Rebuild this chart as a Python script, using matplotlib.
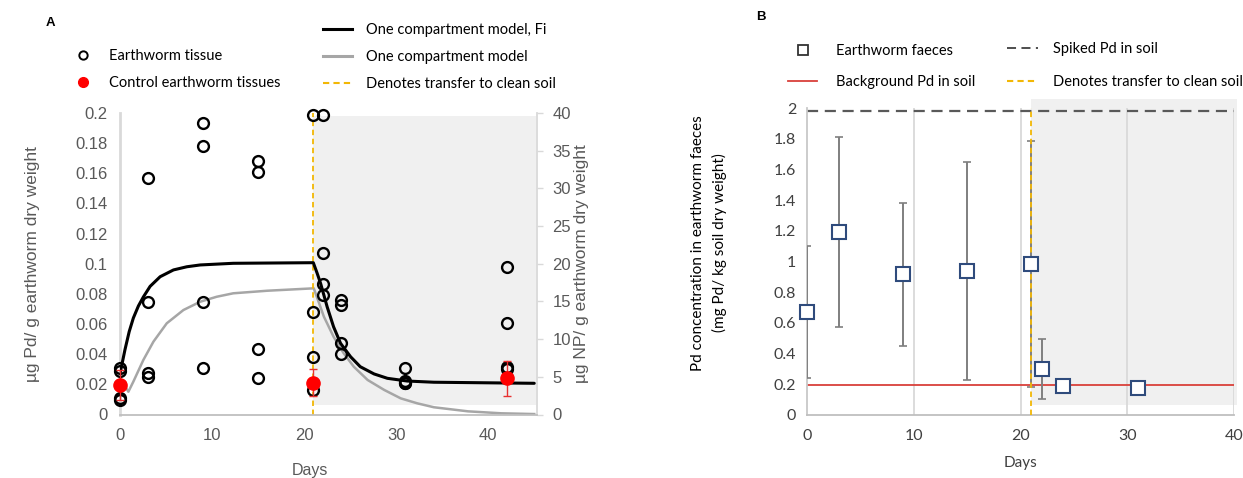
import matplotlib
matplotlib.use('Agg')
import matplotlib.pyplot as plt
from matplotlib.patches import Rectangle
from matplotlib.lines import Line2D

# ---------------- Panel A data ----------------
tissue_days = [0, 0, 0, 0, 3, 3, 3, 3, 9, 9, 9, 9, 15, 15, 15, 15,
               21, 21, 21, 21, 22, 22, 22, 22, 24, 24, 24, 24,
               31, 31, 31, 31, 42, 42, 42, 42]
tissue_pd = [0.031, 0.029, 0.011, 0.0095, 0.157, 0.0748, 0.0277, 0.0247,
             0.1936, 0.178, 0.0744, 0.0306, 0.168, 0.161, 0.0437, 0.0244,
             0.199, 0.0682, 0.0384, 0.0163, 0.199, 0.1074, 0.0866, 0.0793,
             0.076, 0.0726, 0.0472, 0.0399, 0.0306, 0.0222, 0.0212, 0.0207,
             0.098, 0.0605, 0.0313, 0.030]

control_days = [0, 21, 42]
control_pd = [0.0196, 0.0211, 0.024]
control_err = [0.010, 0.009, 0.0115]

model_fi_days = [0, 0.54, 1.0, 1.45, 2.0, 2.54, 3.27, 4.36, 5.81, 7.26, 8.71,
                 12.3, 21.0, 21.4, 21.79, 22.5, 23.2, 23.96, 25.05, 26.1,
                 27.6, 29.05, 31.2, 34.1, 45.0]
model_fi_pd = [0.027, 0.043, 0.055, 0.064, 0.072, 0.078, 0.085, 0.0914,
               0.0959, 0.098, 0.0992, 0.1003, 0.1007, 0.094, 0.087, 0.0715,
               0.0582, 0.0472, 0.0383, 0.0317, 0.0269, 0.024, 0.0222,
               0.0214, 0.0207]

model_days = [0.36, 0.91, 1.45, 2.54, 3.63, 5.08, 6.89, 8.71, 10.5, 12.3,
              16.0, 21.05, 22.15, 23.2, 24.3, 25.4, 26.9, 28.7, 30.5, 32.3,
              34.1, 37.8, 41.4, 45.0]
model_np = [4.14, 3.02, 4.36, 7.24, 9.66, 12.1, 13.86, 14.96, 15.62, 16.08,
            16.42, 16.74, 12.98, 10.32, 8.12, 6.34, 4.58, 3.26, 2.14, 1.48,
            0.96, 0.42, 0.16, 0.06]

transfer_day = 21

# ---------------- Panel B data ----------------
faeces_days = [0, 3, 9, 15, 21, 22, 24, 31]
faeces_pd = [0.672, 1.194, 0.918, 0.941, 0.985, 0.30, 0.191, 0.178]
faeces_err = [0.43, 0.62, 0.467, 0.71, 0.80, 0.195, 0.018, 0.02]
spiked_pd = 1.98
background_pd = 0.196

a_yticks = [0, 0.02, 0.04, 0.06, 0.08, 0.1, 0.12, 0.14, 0.16, 0.18, 0.2]
a_yticklabels = ['0', '0.02', '0.04', '0.06', '0.08', '0.1', '0.12', '0.14',
                 '0.16', '0.18', '0.2']
a_y2ticks = [0, 5, 10, 15, 20, 25, 30, 35, 40]
b_yticks = [0, 0.2, 0.4, 0.6, 0.8, 1.0, 1.2, 1.4, 1.6, 1.8, 2.0]
b_yticklabels = ['0', '0.2', '0.4', '0.6', '0.8', '1', '1.2', '1.4', '1.6',
                 '1.8', '2']
x_ticks = [0, 10, 20, 30, 40]

W, H = 1243, 478
ARIAL = 'Liberation Sans'
CAL = 'Lato'
TXT = '#595959'
SHADE = '#f0f0f0'
GOLD = '#f2b705'


def fx(px):
    return px / W


def fy(py):
    return 1 - py / H


fig = plt.figure(figsize=(W / 100, H / 100), dpi=100)

# ================= Panel A =================
axA = fig.add_axes([fx(120), fy(414.5), fx(537) - fx(120), fy(113) - fy(414.5)])
axA.set_xlim(0, 45.3)
axA.set_ylim(0, 0.2)

# secondary axis (NP), drawn underneath the primary one
axA2 = axA.twinx()
axA2.set_ylim(0, 40)
axA2.add_patch(Rectangle((transfer_day, 1.26), 45.2 - transfer_day, 39.6 - 1.26,
                         facecolor=SHADE, edgecolor='none', zorder=0))
axA2.plot(model_days, model_np, color='#a6a6a6', lw=1.8, zorder=3)
axA2.set_yticks(a_y2ticks)
for sp in ['top', 'left', 'bottom']:
    axA2.spines[sp].set_visible(False)
axA2.spines['right'].set_color('#d9d9d9')
axA2.spines['right'].set_linewidth(1.3)
axA2.tick_params(axis='y', length=4, width=1.0, color='#d9d9d9', pad=7,
                 labelsize=12, labelcolor=TXT)
for lab in axA2.get_yticklabels():
    lab.set_fontfamily(ARIAL)
axA2.set_ylabel('µg NP/ g earthworm dry weight', fontsize=12.5, color=TXT,
                fontfamily=ARIAL)
axA2.yaxis.label.set_verticalalignment('center')
axA2.yaxis.set_label_coords((582 - 120) / 417, 0.5)
axA.set_zorder(axA2.get_zorder() + 1)
axA.patch.set_visible(False)

axA.axvline(transfer_day, color=GOLD, lw=1.3, dashes=(3, 2), zorder=2)
axA.plot(model_fi_days, model_fi_pd, color='black', lw=2.2, zorder=4,
         solid_capstyle='round')
axA.plot(tissue_days, tissue_pd, linestyle='none', marker='o', ms=7.8,
         mfc='none', mec='black', mew=1.7, zorder=5, clip_on=False)
axA.errorbar(control_days, control_pd, yerr=control_err, fmt='o', color='#ff0000',
             ms=9.5, ecolor='#e83030', elinewidth=1.0, capsize=3, capthick=1.0,
             zorder=6, clip_on=False)

axA.set_xticks(x_ticks)
axA.set_yticks(a_yticks)
axA.set_yticklabels(a_yticklabels)
for sp in ['top', 'right']:
    axA.spines[sp].set_visible(False)
axA.spines['left'].set_color('#d9d9d9')
axA.spines['left'].set_linewidth(2.0)
axA.spines['bottom'].set_color('#bfbfbf')
axA.spines['bottom'].set_linewidth(1.3)
axA.tick_params(axis='both', length=0, labelsize=12, labelcolor=TXT)
axA.tick_params(axis='y', pad=9)
axA.tick_params(axis='x', pad=10)
for lab in axA.get_xticklabels() + axA.get_yticklabels():
    lab.set_fontfamily(ARIAL)
axA.set_xlabel('Days', fontsize=11.5, color=TXT, fontfamily=ARIAL)
axA.xaxis.label.set_verticalalignment('center')
axA.xaxis.set_label_coords((310 - 120) / 417, (414.5 - 470) / 301.5)
axA.set_ylabel('µg Pd/ g earthworm dry weight', fontsize=12.5, color=TXT,
               fontfamily=ARIAL)
axA.yaxis.label.set_verticalalignment('center')
axA.yaxis.set_label_coords((33 - 120) / 417, 0.5)

fig.text(fx(50), fy(23), 'A', fontsize=9.5, fontweight='bold', fontfamily=ARIAL,
         ha='center', va='center')

leg_fs = 10.5
legA1 = fig.legend(
    [Line2D([], [], ls='none', marker='o', ms=6, mfc='none', mec='black', mew=1.4),
     Line2D([], [], ls='none', marker='o', ms=7, color='#ff0000')],
    ['Earthworm tissue', 'Control earthworm tissues'],
    loc='center left', bbox_to_anchor=(fx(71.5), fy(69.5)), frameon=False,
    borderpad=0, borderaxespad=0, handlelength=1.6, handletextpad=0.95,
    labelspacing=0.9, prop={'family': CAL, 'size': leg_fs})
legA2 = fig.legend(
    [Line2D([], [], color='black', lw=2.2),
     Line2D([], [], color='#a6a6a6', lw=2.2),
     Line2D([], [], color=GOLD, lw=1.5, dashes=(3, 2))],
    ['One compartment model, Fi', 'One compartment model',
     'Denotes transfer to clean soil'],
    loc='center left', bbox_to_anchor=(fx(323), fy(57)), frameon=False,
    borderpad=0, borderaxespad=0, handlelength=2.0, handletextpad=0.95,
    labelspacing=0.9, prop={'family': CAL, 'size': leg_fs})

# ================= Panel B =================
axB = fig.add_axes([fx(807.3), fy(415), fx(1234) - fx(807.3), fy(108.3) - fy(415)])
axB.set_xlim(0, 40)
axB.set_ylim(0, 2)
axB.add_patch(Rectangle((transfer_day, 0.065), 40.3 - transfer_day, 2.06 - 0.065,
                        facecolor=SHADE, edgecolor='none', zorder=0, clip_on=False))
for xv in [10, 20, 30, 40]:
    axB.axvline(xv, color='#d9d9d9', lw=1.3, zorder=1)
axB.axhline(spiked_pd, color='#595959', lw=1.6, dashes=(5, 3), zorder=2)
axB.axhline(background_pd, color='#d9403a', lw=1.3, zorder=2)
axB.errorbar(faeces_days, faeces_pd, yerr=faeces_err, fmt='none', ecolor='#7f7f7f',
             elinewidth=1.4, capsize=3, capthick=1.2, zorder=3)
axB.axvline(transfer_day, color=GOLD, lw=1.3, dashes=(3, 2), zorder=4)
axB.plot(faeces_days, faeces_pd, ls='none', marker='s', ms=10, mfc='white',
         mec='#2f4b7c', mew=1.5, zorder=5, clip_on=False)

axB.set_xticks(x_ticks)
axB.set_yticks(b_yticks)
axB.set_yticklabels(b_yticklabels)
for sp in ['top', 'right']:
    axB.spines[sp].set_visible(False)
axB.spines['left'].set_color('#c8c8c8')
axB.spines['left'].set_linewidth(1.3)
axB.spines['bottom'].set_color('#bfbfbf')
axB.spines['bottom'].set_linewidth(1.3)
axB.tick_params(axis='both', length=0, labelsize=11.5, labelcolor='#404040')
axB.tick_params(axis='y', pad=8)
axB.tick_params(axis='x', pad=10)
for lab in axB.get_xticklabels() + axB.get_yticklabels():
    lab.set_fontfamily(CAL)
axB.set_xlabel('Days', fontsize=11, color='#404040', fontfamily=CAL)
axB.xaxis.label.set_verticalalignment('center')
axB.xaxis.set_label_coords(0.5, (415 - 463) / 306.7)
axB.set_ylabel('Pd concentration in earthworm faeces\n(mg Pd/ kg soil dry weight)',
               fontsize=11, color='black', fontfamily=CAL, linespacing=1.6)
axB.yaxis.label.set_verticalalignment('center')
axB.yaxis.set_label_coords((709 - 807.3) / 426.7, (415 - 243) / 306.7)

fig.text(fx(761), fy(17), 'B', fontsize=9.5, fontweight='bold', fontfamily=ARIAL,
         ha='center', va='center')

legB1 = fig.legend(
    [Line2D([], [], ls='none', marker='s', ms=7, mfc='white', mec='#333333', mew=1.3),
     Line2D([], [], color='#d9403a', lw=1.3)],
    ['Earthworm faeces', 'Background Pd in soil'],
    loc='center left', bbox_to_anchor=(fx(788), fy(66.5)), frameon=False,
    borderpad=0, borderaxespad=0, handlelength=2.0, handletextpad=1.3,
    labelspacing=1.2, prop={'family': CAL, 'size': leg_fs})
legB2 = fig.legend(
    [Line2D([], [], color='#404040', lw=1.3, dashes=(5, 3)),
     Line2D([], [], color=GOLD, lw=1.5, dashes=(3, 2))],
    ['Spiked Pd in soil', 'Denotes transfer to clean soil'],
    loc='center left', bbox_to_anchor=(fx(1007), fy(65.5)), frameon=False,
    borderpad=0, borderaxespad=0, handlelength=2.1, handletextpad=1.05,
    labelspacing=1.25, prop={'family': CAL, 'size': leg_fs})

fig.savefig('out.png', dpi=100)
